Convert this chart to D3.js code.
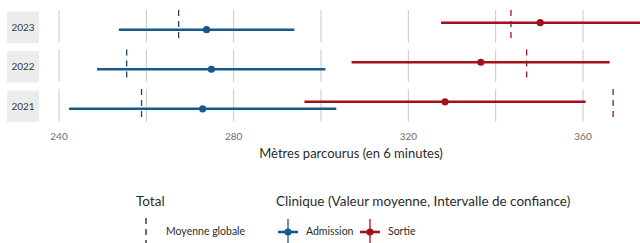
<!DOCTYPE html>
<html>
<head>
<meta charset="utf-8">
<script src="https://cdn.jsdelivr.net/npm/d3@7"></script>
<style>
  body { margin: 0; background: #fff; }
  svg { display: block; font-family: Lato, "Open Sans", sans-serif; }
</style>
</head>
<body>
<div id="chart-area"></div>
<script>

const years = ['2023', '2022', '2021']
const groups = ['Admission', 'Sortie']

// Admission
const admMean = [273.8, 274.9, 272.9]
const admLow = [253.7, 248.7, 242.3]
const admHigh = [293.9, 301.0, 303.5]
const admTotal = [267.4, 255.5, 258.9]

// Sortie
const sorMean = [350.2, 336.6, 328.4]
const sorLow = [327.5, 307.0, 296.2]
const sorHigh = [380.0, 366.1, 360.6]
const sorTotal = [343.5, 347.1, 366.9]

const tickLabels = [240, 280, 320, 360]
const gridValues = [240, 260, 280, 300, 320, 340, 360]

const COLORS = { Admission: '#17598c', Sortie: '#a3121b' }
const DASH_COLORS = { Admission: '#1e4466', Sortie: '#8e1b1f' }

const WIDTH = 640
const HEIGHT = 243

const rows = []
years.forEach((y, i) => {
    rows.push({ year: y, group: 'Admission', mean: admMean[i], low: admLow[i], high: admHigh[i], total: admTotal[i] })
    rows.push({ year: y, group: 'Sortie', mean: sorMean[i], low: sorLow[i], high: sorHigh[i], total: sorTotal[i] })
})

const svg = d3.select('#chart-area').append('svg')
    .attr('width', WIDTH)
    .attr('height', HEIGHT)

const x = d3.scaleLinear()
    .domain([240, 360])
    .range([59, 583])

const y = d3.scaleBand()
    .domain(years)
    .range([10, 121.5])
    .paddingInner(0.18)

const bw = y.bandwidth()

// dodge inside each panel: Sortie above, Admission below
const dodge = d3.scalePoint()
    .domain(['Sortie', 'Admission'])
    .range([bw / 2 - 3.5, bw / 2 + 3.5])

// strips
svg.selectAll('.strip').data(years).enter().append('rect')
    .attr('x', 7)
    .attr('y', d => y(d) + 1.5)
    .attr('width', 32)
    .attr('height', bw - 1)
    .attr('fill', '#ececec')

svg.selectAll('.strip-label').data(years).enter().append('text')
    .attr('x', 23)
    .attr('y', d => y(d) + bw / 2 + 2)
    .attr('text-anchor', 'middle')
    .attr('dominant-baseline', 'middle')
    .attr('font-size', 10)
    .attr('fill', '#3a3a3a')
    .text(d => d)

// grid lines per panel
years.forEach(yr => {
    svg.append('g').selectAll('line').data(gridValues).enter().append('line')
        .attr('x1', d => x(d))
        .attr('x2', d => x(d))
        .attr('y1', y(yr))
        .attr('y2', y(yr) + bw)
        .attr('stroke', '#c8c8c8')
        .attr('stroke-width', 1)
})

// total mean dashed lines
svg.selectAll('.total').data(rows).enter().append('line')
    .attr('x1', d => x(d.total))
    .attr('x2', d => x(d.total))
    .attr('y1', d => y(d.year))
    .attr('y2', d => y(d.year) + bw)
    .attr('stroke', d => DASH_COLORS[d.group])
    .attr('stroke-width', 1.3)
    .attr('stroke-dasharray', '6,5')

const lineY = d => y(d.year) + dodge(d.group)

// confidence interval
svg.selectAll('.ci').data(rows).enter().append('line')
    .attr('x1', d => x(d.low))
    .attr('x2', d => x(d.high))
    .attr('y1', lineY)
    .attr('y2', lineY)
    .attr('stroke', d => COLORS[d.group])
    .attr('stroke-width', 2.6)

svg.selectAll('.pt').data(rows).enter().append('circle')
    .attr('cx', d => x(d.mean))
    .attr('cy', lineY)
    .attr('r', 3.6)
    .attr('fill', d => COLORS[d.group])

// x axis labels
svg.append('g').selectAll('text').data(tickLabels).enter().append('text')
    .attr('x', d => x(d))
    .attr('y', 137)
    .attr('text-anchor', 'middle')
    .attr('dominant-baseline', 'middle')
    .attr('font-size', 10)
    .attr('fill', '#6b6b6b')
    .text(d => d)

svg.append('text')
    .attr('x', 351)
    .attr('y', 155)
    .attr('text-anchor', 'middle')
    .attr('dominant-baseline', 'middle')
    .attr('font-size', 13)
    .attr('fill', '#2b2b2b')
    .text('Mètres parcourus (en 6 minutes)')

// legend: Total
svg.append('text')
    .attr('x', 136)
    .attr('y', 203)
    .attr('dominant-baseline', 'middle')
    .attr('font-size', 13.5)
    .attr('fill', '#2b2b2b')
    .text('Total')

svg.append('line')
    .attr('x1', 146).attr('x2', 146)
    .attr('y1', 218).attr('y2', 246)
    .attr('stroke', '#222')
    .attr('stroke-width', 1.3)
    .attr('stroke-dasharray', '6,5')

svg.append('text')
    .attr('x', 166)
    .attr('y', 232)
    .attr('dominant-baseline', 'middle')
    .attr('font-size', 10.5)
    .attr('fill', '#2b2b2b')
    .text('Moyenne globale')

// legend: Clinique
svg.append('text')
    .attr('x', 276)
    .attr('y', 203)
    .attr('dominant-baseline', 'middle')
    .attr('font-size', 13.5)
    .attr('fill', '#2b2b2b')
    .text('Clinique (Valeur moyenne, Intervalle de confiance)')

const keyX = { Admission: 288, Sortie: 370 }

const keys = svg.selectAll('.key').data(groups).enter().append('g')
    .attr('transform', d => `translate(${keyX[d]}, 232)`)

keys.append('line')
    .attr('x1', -10).attr('x2', 10)
    .attr('y1', 0).attr('y2', 0)
    .attr('stroke', d => COLORS[d])
    .attr('stroke-width', 2.6)

keys.append('line')
    .attr('x1', 0).attr('x2', 0)
    .attr('y1', -13).attr('y2', 14)
    .attr('stroke', d => COLORS[d])
    .attr('stroke-width', 1.3)

keys.append('circle')
    .attr('r', 3.6)
    .attr('fill', d => COLORS[d])

keys.append('text')
    .attr('x', 18)
    .attr('y', 0)
    .attr('dominant-baseline', 'middle')
    .attr('font-size', 10.5)
    .attr('fill', '#2b2b2b')
    .text(d => d)

</script>
</body>
</html>
